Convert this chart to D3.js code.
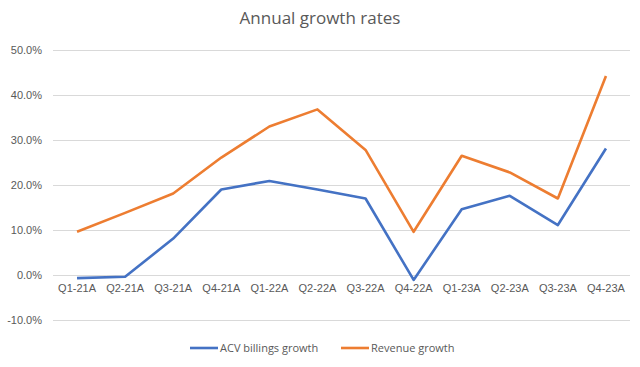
<!DOCTYPE html>
<html>
<head>
<meta charset="utf-8">
<script src="https://cdn.jsdelivr.net/npm/d3@7"></script>
<style>
  body { margin: 0; background: #fff; }
  svg { font-family: "Open Sans", "Liberation Sans", sans-serif; }
</style>
</head>
<body>
<svg id="chart" width="640" height="367"></svg>
<script>
'use strict';

// quarters on the x axis
var quarters = ['Q1-21A', 'Q2-21A', 'Q3-21A', 'Q4-21A', 'Q1-22A', 'Q2-22A',
  'Q3-22A', 'Q4-22A', 'Q1-23A', 'Q2-23A', 'Q3-23A', 'Q4-23A'];
// growth in %
var acvGrowth = [-0.7, -0.4, 8.1, 19.0, 20.9, 19.0, 17.0, -1.1, 14.6, 17.6, 11.1, 28.1];
var revenueGrowth = [9.6, 13.8, 18.1, 26.1, 33.0, 36.8, 27.8, 9.6, 26.5, 22.8, 17.0, 44.2];
var yTicks = [-10, 0, 10, 20, 30, 40, 50];
var seriesNames = ['ACV billings growth', 'Revenue growth'];
var colors = ['#4472C4', '#ED7D31'];

var svg = d3.select('#chart');
var plotLeft = 53, plotRight = 630, plotTop = 50, plotBottom = 320;

var x = d3.scaleBand().domain(quarters).range([plotLeft, plotRight]);
var y = d3.scaleLinear().domain([-10, 50]).range([plotBottom, plotTop]);

svg.append('text')
  .attr('x', 320).attr('y', 24)
  .attr('text-anchor', 'middle')
  .attr('font-size', 17)
  .attr('fill', '#595959')
  .text('Annual growth rates');

// gridlines + y labels
var yAxis = d3.axisLeft(y).tickValues(yTicks)
  .tickSize(-(plotRight - plotLeft))
  .tickFormat(function (d) { return d.toFixed(1) + '%'; });
var gy = svg.append('g').attr('transform', 'translate(' + plotLeft + ',0)').call(yAxis);
gy.select('.domain').remove();
gy.selectAll('.tick line').attr('stroke', '#d9d9d9').attr('stroke-width', 1);
gy.selectAll('.tick text').attr('x', -11).attr('fill', '#595959').attr('font-size', 11);

// category labels just under the zero line
var xAxis = d3.axisBottom(x).tickSize(0).tickPadding(9);
var gx = svg.append('g').attr('transform', 'translate(0,' + y(0) + ')').call(xAxis);
gx.select('.domain').remove();
gx.selectAll('.tick text').attr('fill', '#595959').attr('font-size', 11);

var line = d3.line()
  .x(function (d, i) { return x(quarters[i]) + x.bandwidth() / 2; })
  .y(function (d) { return y(d); });

[acvGrowth, revenueGrowth].forEach(function (series, i) {
  svg.append('path')
    .datum(series)
    .attr('d', line)
    .attr('fill', 'none')
    .attr('stroke', colors[i])
    .attr('stroke-width', 2.6)
    .attr('stroke-linejoin', 'round');
});

// legend
var legendX = [190, 341];
seriesNames.forEach(function (name, i) {
  var g = svg.append('g').attr('transform', 'translate(' + legendX[i] + ',348)');
  g.append('line').attr('x1', 0).attr('x2', 28).attr('y1', 0).attr('y2', 0)
    .attr('stroke', colors[i]).attr('stroke-width', 2.6);
  g.append('text').attr('x', 30).attr('y', 4)
    .attr('font-size', 11).attr('fill', '#595959').text(name);
});
</script>
</body>
</html>
